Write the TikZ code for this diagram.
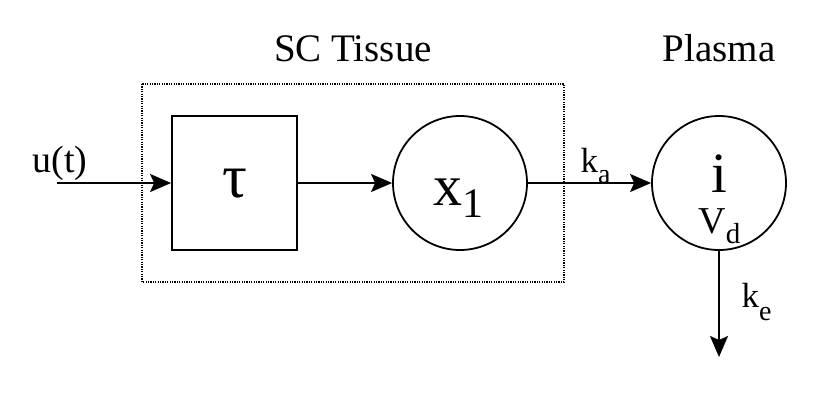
\documentclass[tikz,border=0pt]{standalone}
\usepackage{fontspec}
\setmainfont{Liberation Serif}
\usetikzlibrary{arrows.meta}
\newcommand\fs[1]{\fontsize{#1}{#1}\selectfont}
\newcommand\lowsub[3]{\raisebox{-#1pt}{\fs{#2}#3}}

\begin{document}
\begin{tikzpicture}[
  x=1pt, y=-1pt,
  line width=1.8pt,
  >={Stealth[length=21pt, width=18pt, inset=4pt]},
  t/.style={inner sep=0pt, anchor=base},
  blk/.style={draw, minimum width=125pt, minimum height=134pt, inner sep=0pt},
  cmp/.style={draw, circle, minimum size=134pt, inner sep=0pt}
]
  \useasboundingbox (0,0) rectangle (840,402);
  \draw[line width=1.4pt, dash pattern=on 1.2pt off 1.2pt] (142,84) rectangle (564,282);
  \node[blk] (tau) at (234.5,183) {};
  \node[cmp] (x1)  at (460,183)   {};
  \node[cmp] (pl)  at (719,183)   {};
  \coordinate (in)  at (57,183);
  \coordinate (out) at (719,357);
  \node[t] (lt)  at (234.5,197) {\fs{62}τ};
  \node[t] (lx)  at (458,205)   {\fs{58}x\lowsub{12}{42}{1}};
  \node[t] (li)  at (719,192)   {\fs{57}i};
  \node[t] (lv)  at (719.5,233) {\fs{38}V\lowsub{10}{29}{d}};
  \node[t] (lu)  at (60,172)    {\fs{38}u(t)};
  \node[t] (lka) at (595.5,172) {\fs{35}k\lowsub{11}{28}{a}};
  \node[t] (lke) at (756.5,307) {\fs{35}k\lowsub{13}{28}{e}};
  \node[t] (sc)  at (353,61)    {\fs{39}SC Tissue};
  \node[t] (pm)  at (719,61)    {\fs{39}Plasma};
  \draw[->] (in) -- (tau);
  \draw[->] (tau) -- (x1);
  \draw[->] (x1) -- (pl);
  \draw[->] (pl) -- (out);
\end{tikzpicture}
\end{document}
